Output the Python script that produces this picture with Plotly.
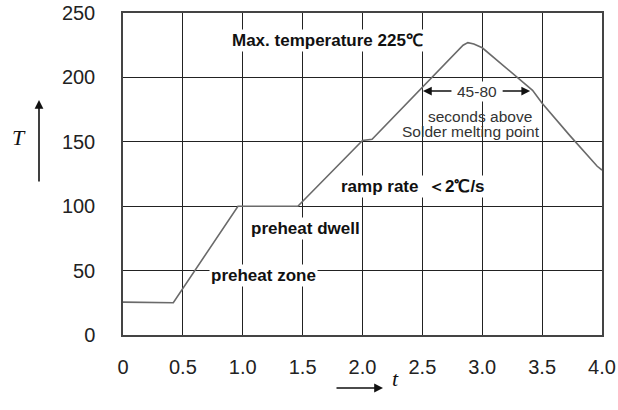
import plotly.graph_objects as go

# Reflow profile (time t, temperature T)
t_vals = [0, 0.42, 0.96, 1.46, 2.0, 2.08, 2.84, 2.88, 2.93, 3.0, 3.42, 3.5, 3.73, 3.9, 3.96, 4.0]
T_vals = [25.5, 25, 100, 100, 151, 152, 225, 227, 226, 223, 190, 180, 155, 137, 131, 128]

x_ticks = [0, 0.5, 1.0, 1.5, 2.0, 2.5, 3.0, 3.5, 4.0]
x_tick_labels = ["0", "0.5", "1.0", "1.5", "2.0", "2.5", "3.0", "3.5", "4.0"]
y_ticks = [0, 50, 100, 150, 200, 250]
y_tick_labels = ["0", "50", "100", "150", "200", "250"]

# Plot area in pixels (for paper-coordinate helpers)
L, R, T_, B = 123, 602, 13, 335
W, H = 618, 410


def px(xp):
    return (xp - L) / (R - L)


def py(yp):
    return (B - yp) / (B - T_)


fig = go.Figure()
fig.add_trace(go.Scatter(x=t_vals, y=T_vals, mode="lines",
                         line=dict(color="#6a6a6a", width=1.6),
                         hoverinfo="skip", showlegend=False))

bold = dict(family="Liberation Sans, Arial, sans-serif", size=17, color="#111111")
thin = dict(family="Liberation Sans, Arial, sans-serif", size=15.5, color="#333333")

ann = []


def label(x, y, text, font, bg="white"):
    ann.append(dict(x=x, y=y, xref="x", yref="y", text=text, showarrow=False,
                    font=font, bgcolor=bg, borderpad=1))


label(1.71, 229, "<b>Max. temperature 225℃</b>", bold)
label(2.96, 189, "45-80", thin)
label(2.98, 170, "seconds above", thin, bg="rgba(0,0,0,0)")
label(2.91, 158, "Solder melting point", thin, bg="rgba(0,0,0,0)")
label(2.42, 115, "<b>ramp rate  ＜2℃/s</b>", bold)
label(1.52, 83, "<b>preheat dwell</b>", bold)
label(1.17, 46.5, "<b>preheat zone</b>", bold)

# arrows for 45-80
ann.append(dict(x=2.505, y=189.4, xref="x", yref="y", ax=30, ay=0, text="",
                showarrow=True, arrowhead=2, arrowsize=1.1, arrowwidth=1.6,
                arrowcolor="#111111"))
ann.append(dict(x=3.40, y=189.4, xref="x", yref="y", ax=-29, ay=0, text="",
                showarrow=True, arrowhead=2, arrowsize=1.1, arrowwidth=1.6,
                arrowcolor="#111111"))

# axis titles with arrows
ann.append(dict(x=px(39), y=py(100), xref="paper", yref="paper", ax=0, ay=83,
                text="", showarrow=True, arrowhead=2, arrowsize=1.1,
                arrowwidth=1.6, arrowcolor="#111111"))
ann.append(dict(x=px(10), y=py(137), xref="paper", yref="paper", text="<i>T</i>",
                showarrow=False,
                font=dict(family="Liberation Serif, Times New Roman, serif",
                          size=22, color="#111111")))
ann.append(dict(x=px(383), y=py(388), xref="paper", yref="paper", ax=-48, ay=0,
                text="", showarrow=True, arrowhead=2, arrowsize=1.1,
                arrowwidth=1.6, arrowcolor="#111111"))
ann.append(dict(x=px(395), y=py(393), xref="paper", yref="paper", text="<i>t</i>",
                showarrow=False,
                font=dict(family="Liberation Serif, Times New Roman, serif",
                          size=22, color="#111111")))

tickfont = dict(family="Liberation Sans, Arial, sans-serif", size=20, color="#222222")

fig.update_layout(
    width=W, height=H,
    margin=dict(l=L, r=W - R, t=T_, b=H - B, pad=0, autoexpand=False),
    paper_bgcolor="white", plot_bgcolor="white",
    annotations=ann,
    xaxis=dict(range=[0, 4], tickvals=x_ticks, ticktext=x_tick_labels,
               showgrid=True, gridcolor="#222222", gridwidth=1,
               showline=True, mirror=True, linecolor="#444444", linewidth=1.5,
               zeroline=False, ticks="", tickfont=tickfont, automargin=False,
               ticklabelstandoff=13, fixedrange=True),
    yaxis=dict(range=[0, 250], tickvals=y_ticks, ticktext=y_tick_labels,
               showgrid=True, gridcolor="#222222", gridwidth=1,
               showline=True, mirror=True, linecolor="#444444", linewidth=1.5,
               zeroline=False, ticks="", tickfont=tickfont, automargin=False,
               ticklabelstandoff=22, fixedrange=True),
)

fig.write_html("out.html", config={"displayModeBar": False},
               post_script="document.body.style.margin='0px';"
                           "document.body.style.overflow='hidden';")
